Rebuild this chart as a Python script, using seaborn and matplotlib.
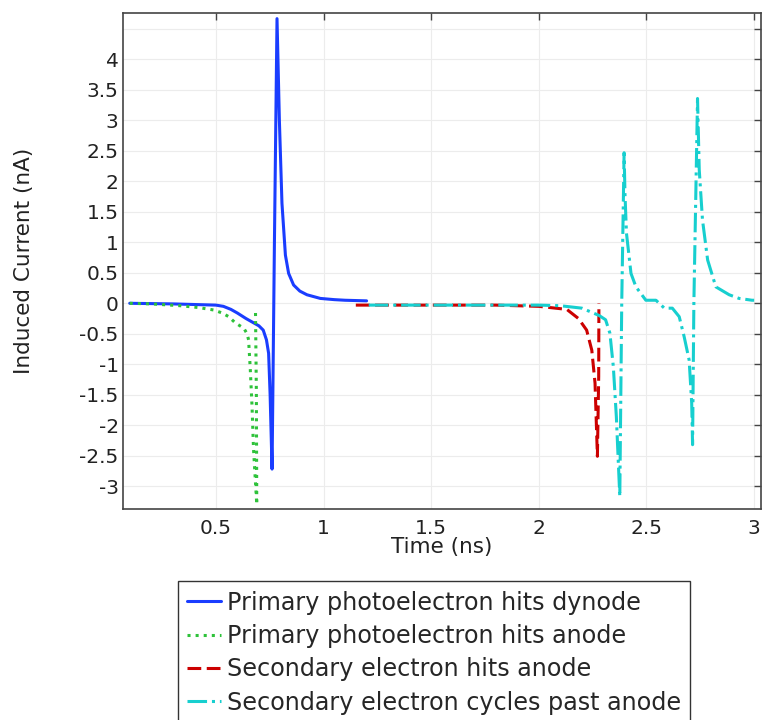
import numpy as np
import pandas as pd
import matplotlib
matplotlib.use("Agg")
import matplotlib.pyplot as plt
import seaborn as sns

# ---- data ----
dyn_t = [0.1, 0.2, 0.3, 0.4, 0.5, 0.535, 0.57, 0.6, 0.64, 0.675, 0.7, 0.72, 0.735, 0.745,
         0.752, 0.761, 0.772, 0.784, 0.795, 0.807, 0.823, 0.838, 0.861, 0.89, 0.923, 0.985,
         1.05, 1.1, 1.2]
dyn_v = [0.0, -0.005, -0.01, -0.02, -0.03, -0.05, -0.1, -0.16, -0.25, -0.32, -0.37, -0.44,
         -0.6, -0.82, -1.5, -2.72, 1.0, 4.67, 3.0, 1.64, 0.79, 0.49, 0.30, 0.2, 0.14, 0.08,
         0.06, 0.05, 0.04]

pan_t = [0.1, 0.2, 0.335, 0.42, 0.49, 0.53, 0.56, 0.59, 0.63, 0.645, 0.652, 0.66, 0.668,
         0.675, 0.69, 0.688, 0.684]
pan_v = [0.0, -0.01, -0.04, -0.07, -0.11, -0.16, -0.22, -0.32, -0.41, -0.5, -0.6, -1.09,
         -1.69, -2.4, -3.3, -1.42, -0.11]

sec_t = [1.15, 1.5, 1.8, 2.0, 2.13, 2.184, 2.222, 2.246, 2.261, 2.272, 2.278, 2.279]
sec_v = [-0.03, -0.03, -0.03, -0.05, -0.1, -0.25, -0.44, -0.77, -1.31, -2.51, -1.2, 0.0]

cyc_t = [1.21, 1.5, 1.8, 2.0, 2.1, 2.2, 2.28, 2.31, 2.33, 2.346, 2.36, 2.376, 2.385, 2.396,
         2.4, 2.407, 2.428, 2.451, 2.497, 2.544, 2.583, 2.62, 2.652, 2.675, 2.698, 2.71,
         2.714, 2.72, 2.737, 2.745, 2.76, 2.784, 2.822, 2.884, 2.93, 2.99, 3.0]
cyc_v = [-0.03, -0.03, -0.03, -0.03, -0.04, -0.08, -0.2, -0.27, -0.49, -1.04, -1.86, -3.17,
         0.0, 2.47, 1.8, 1.15, 0.49, 0.27, 0.05, 0.05, -0.08, -0.08, -0.22, -0.55, -0.93,
         -1.64, -2.32, 0.0, 3.36, 2.19, 1.37, 0.71, 0.27, 0.14, 0.08, 0.05, 0.05]

labels = ["Primary photoelectron hits dynode",
          "Primary photoelectron hits anode",
          "Secondary electron hits anode",
          "Secondary electron cycles past anode"]
colors = ["#1a3dff", "#2ec23a", "#cc0000", "#17cfcf"]
styles = ["-", ":", (0, (4.5, 1.8)), "-."]

x_ticks = [0.5, 1, 1.5, 2, 2.5, 3]
x_ticklabels = ["0.5", "1", "1.5", "2", "2.5", "3"]
y_ticks = [-3, -2.5, -2, -1.5, -1, -0.5, 0, 0.5, 1, 1.5, 2, 2.5, 3, 3.5, 4, 4.5]
y_ticklabels = ["-3", "-2.5", "-2", "-1.5", "-1", "-0.5", "0", "0.5", "1", "1.5", "2",
                "2.5", "3", "3.5", "4", ""]

sns.set_style("white")
plt.rcParams["font.family"] = ["DejaVu Sans"]

fig = plt.figure(figsize=(7.63, 7.20), dpi=100)
ax = fig.add_axes([0.161, 0.2926, 0.837, 0.690])

series = [(dyn_t, dyn_v), (pan_t, pan_v), (sec_t, sec_v), (cyc_t, cyc_v)]
for (t, v), lab, col, ls in zip(series, labels, colors, styles):
    df = pd.DataFrame({"t": t, "v": v})
    sns.lineplot(data=df, x="t", y="v", sort=False, estimator=None, ax=ax,
                 color=col, linestyle=ls, linewidth=2.5, label=lab)

ax.set_xlim(0.068, 3.034)
ax.set_ylim(-3.38, 4.77)
ax.set_xticks(x_ticks)
ax.set_xticklabels(x_ticklabels)
ax.set_yticks(y_ticks)
ax.set_yticklabels(y_ticklabels)
ax.grid(True, color="#ececec", linewidth=0.8)
ax.set_axisbelow(True)
for s in ax.spines.values():
    s.set_color("#444444")
    s.set_linewidth(1.2)
ax.tick_params(axis="both", direction="in", top=True, right=True, length=5,
               width=1, color="#444444", labelsize=14.5, labelcolor="#222222")
ax.tick_params(axis="x", pad=7)
ax.tick_params(axis="y", pad=3)
ax.set_xlabel("Time (ns)", fontsize=15.5, labelpad=-1, color="#222222")
ax.set_ylabel("Induced Current (nA)", fontsize=15.5, labelpad=33, color="#222222")

ax.legend_.remove()
handles, labs = ax.get_legend_handles_labels()
for h in handles:
    h.set_linewidth(2.2)
leg = fig.legend(handles, labs, loc="upper center", bbox_to_anchor=(434 / 763, 1 - 581 / 720),
                 fontsize=17.2, frameon=True, fancybox=False, edgecolor="black",
                 handlelength=1.4, handletextpad=0.25, labelspacing=0.39,
                 borderpad=0.4, borderaxespad=0)
leg.get_frame().set_linewidth(1.0)

fig.savefig("out.png", dpi=100)
